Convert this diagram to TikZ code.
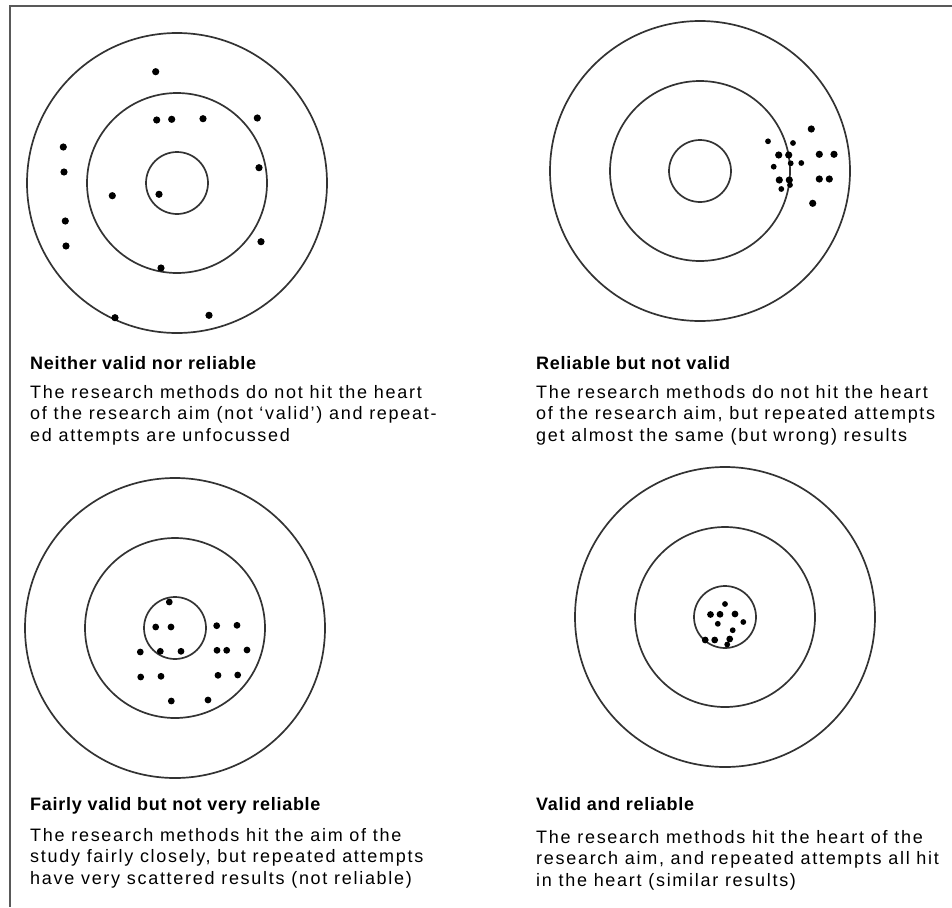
\documentclass[tikz,border=0pt]{standalone}
\usepackage{fontspec}
\setmainfont{Liberation Sans}
\newfontfamily\headfont[LetterSpace=4]{Liberation Sans Bold}
\newfontfamily\bodyfont[LetterSpace=9.5]{Liberation Sans}
\begin{document}
\begin{tikzpicture}[x=1pt,y=-1pt,
  ring/.style={draw=black!80,line width=1.7pt},
  hit/.style={fill=black},
  head/.style={anchor=base west,inner sep=0pt,font=\headfont\fontsize{18}{22}\selectfont},
  desc/.style={anchor=north west,inner sep=0pt,align=left,font=\bodyfont\fontsize{18}{21.5}\selectfont}]
\useasboundingbox (0,0) rectangle (952,907);
\draw[black!65,line width=2pt] (952,6) -- (10,6) -- (10,907);

% neither valid nor reliable
\foreach \r in {150,90,31} \draw[ring] (177,183) circle (\r);
\foreach \p in {(155.7,71.7),(156.7,120),(171.7,119.3),(203,118.7),(257.3,118),(63.3,147),(64,172),(259,167.7),
  (112.3,195.7),(159,194.3),(65.3,221),(66,246),(261,241.7),(161,268),(115,317.7),(209,315.3)}
  \fill[hit] \p circle (3.6);
\node[head] (nvTitle) at (30,369) {Neither valid nor reliable};
\node[desc] (nvText) at (30,385) {The research methods do not hit the heart\\of the research aim (not ‘valid’) and repeat-\\ed attempts are unfocussed};

% reliable but not valid
\foreach \r in {150,90,31} \draw[ring] (700,171) circle (\r);
\foreach \p in {(811.3,129),(778.7,155),(788.7,155),(819.3,154.3),(834,154.3),(779.3,180),(789.3,180),(819.3,179),
  (829.3,179),(812.7,203.3)}
  \fill[hit] \p circle (3.6);
\foreach \p in {(768,141.3),(793,143),(773.7,166.7),(790.7,163.3),(801.3,163),(781.3,189),(790,185)}
  \fill[hit] \p circle (2.9);
\node[head] (rnTitle) at (536,369) {Reliable but not valid};
\node[desc] (rnText) at (536,385) {The research methods do not hit the heart\\of the research aim, but repeated attempts\\get almost the same (but wrong) results};

% fairly valid but not very reliable
\foreach \r in {150,90,31} \draw[ring] (175,628) circle (\r);
\foreach \p in {(169.3,602),(155.7,627),(171,627),(216.7,625.7),(237,625.3),(140.3,652),(160.3,651.3),(181,651.3),
  (217,650.3),(226.7,650.3),(247,650),(140.7,677),(161,676.3),(218,675.3),(237.7,675),(171.3,701),(208,700)}
  \fill[hit] \p circle (3.4);
\node[head] (fvTitle) at (30,810) {Fairly valid but not very reliable};
\node[desc] (fvText) at (30,828) {The research methods hit the aim of the\\study fairly closely, but repeated attempts\\have very scattered results (not reliable)};

% valid and reliable
\foreach \r in {150,90,31} \draw[ring] (725,617) circle (\r);
\foreach \p in {(710.5,614.5),(720,614.3),(735,614),(705.2,640),(714.7,640),(729.7,639)}
  \fill[hit] \p circle (3.4);
\foreach \p in {(725,604),(743.3,622),(717.8,623.8),(732.7,630.2),(727.2,644.5)}
  \fill[hit] \p circle (2.9);
\node[head] (vrTitle) at (536,810) {Valid and reliable};
\node[desc] (vrText) at (536,830) {The research methods hit the heart of the\\research aim, and repeated attempts all hit\\in the heart (similar results)};

\end{tikzpicture}
\end{document}
